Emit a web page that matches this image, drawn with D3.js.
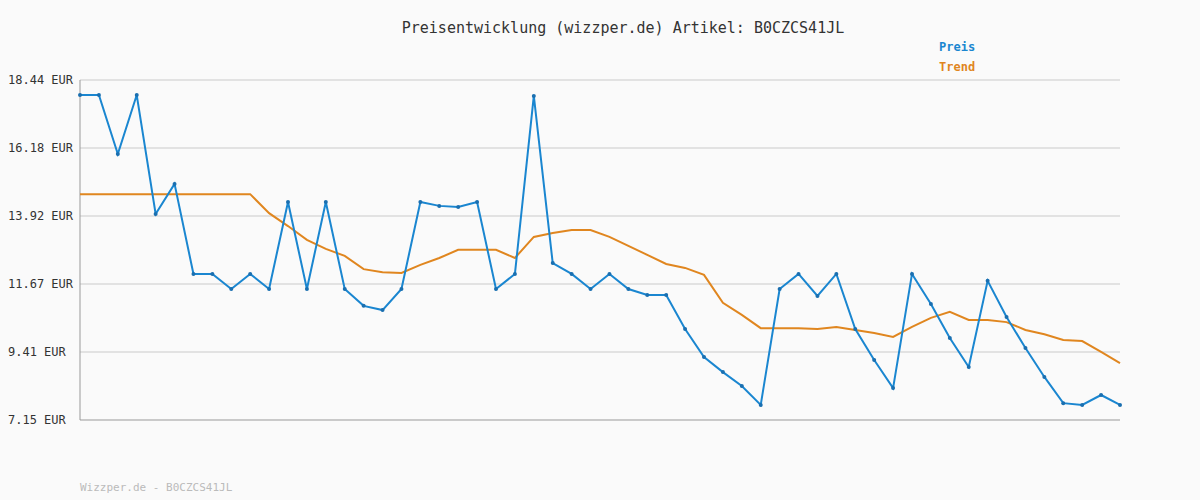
<!DOCTYPE html>
<html><head><meta charset="utf-8">
<script src="https://cdn.jsdelivr.net/npm/d3@7"></script>
<style>body{margin:0;background:#fafafa}text{font-family:"DejaVu Sans Mono",monospace}</style>
</head><body><div id="chart"></div>
<script>
let title = "Preisentwicklung (wizzper.de) Artikel: B0CZCS41JL";
let yTicks = [7.15, 9.41, 11.67, 13.92, 16.18, 18.44];
let price = [17.94,17.94,15.98,17.94,13.99,14.99,12.0,12.0,11.5,12.0,11.5,14.39,11.5,14.39,11.5,10.94,10.8,11.5,
  14.39,14.26,14.22,14.39,11.5,12.0,17.91,12.36,12.0,11.5,12.0,11.5,11.3,11.3,10.17,9.24,8.74,8.28,7.65,
  11.5,12.0,11.27,12.0,10.17,9.14,8.21,12.0,11.0,9.87,8.91,11.77,10.57,9.54,8.58,7.71,7.65,7.98,7.65];
let trend = [14.65,14.65,14.65,14.65,14.65,14.65,14.65,14.65,14.65,14.65,14.02,13.59,13.13,12.83,12.6,12.16,12.06,12.03,
  12.3,12.53,12.8,12.8,12.8,12.53,13.23,13.36,13.46,13.46,13.23,12.93,12.63,12.33,12.2,11.97,11.04,10.64,10.2,
  10.2,10.2,10.17,10.24,10.14,10.04,9.91,10.24,10.54,10.74,10.47,10.47,10.4,10.14,10.0,9.81,9.77,9.41,9.04];

let svg = d3.select("#chart").append("svg").attr("width", 1200).attr("height", 500);
svg.append("rect").attr("width", 1200).attr("height", 500).attr("fill", "#fafafa");

let x = d3.scaleLinear().domain([0, price.length - 1]).range([80, 1120]);
let y = d3.scaleLinear().domain([7.15, 18.44]).range([420, 80]);

// grid
svg.selectAll(".grid").data(yTicks.slice(1)).enter().append("line")
  .attr("x1", 80).attr("x2", 1120).attr("y1", d => y(d)).attr("y2", d => y(d))
  .attr("stroke", "#e2e2e2").attr("stroke-width", 2);

svg.selectAll(".ylab").data(yTicks).enter().append("text")
  .attr("x", 8).attr("y", d => y(d) + 4).attr("font-size", 12).attr("fill", "#333")
  .text(d => d.toFixed(2) + " EUR");

svg.append("line").attr("x1", 80).attr("x2", 80).attr("y1", 80).attr("y2", 420).attr("stroke", "#999");
svg.append("line").attr("x1", 80).attr("x2", 1120).attr("y1", 420).attr("y2", 420).attr("stroke", "#999");

let line = d3.line().x((d, i) => x(i)).y(d => y(d));
svg.append("path").datum(trend).attr("d", line).attr("fill", "none").attr("stroke", "#e0861f").attr("stroke-width", 2);
svg.append("path").datum(price).attr("d", line).attr("fill", "none").attr("stroke", "#1a86d0").attr("stroke-width", 2);
svg.selectAll(".pt").data(price).enter().append("circle")
  .attr("cx", (d, i) => x(i)).attr("cy", d => y(d)).attr("r", 2).attr("fill", "#1a6fb0");

svg.append("text").attr("x", 623).attr("y", 33).attr("text-anchor", "middle").attr("font-size", 15)
  .attr("fill", "#333").text(title);
svg.append("text").attr("x", 939).attr("y", 51).attr("font-size", 12).attr("font-weight", "bold").attr("fill", "#1a86d0").text("Preis");
svg.append("text").attr("x", 939).attr("y", 71).attr("font-size", 12).attr("font-weight", "bold").attr("fill", "#e0861f").text("Trend");
svg.append("text").attr("x", 80).attr("y", 491).attr("font-size", 11).attr("fill", "#bbb").text("Wizzper.de - B0CZCS41JL");
</script></body></html>
